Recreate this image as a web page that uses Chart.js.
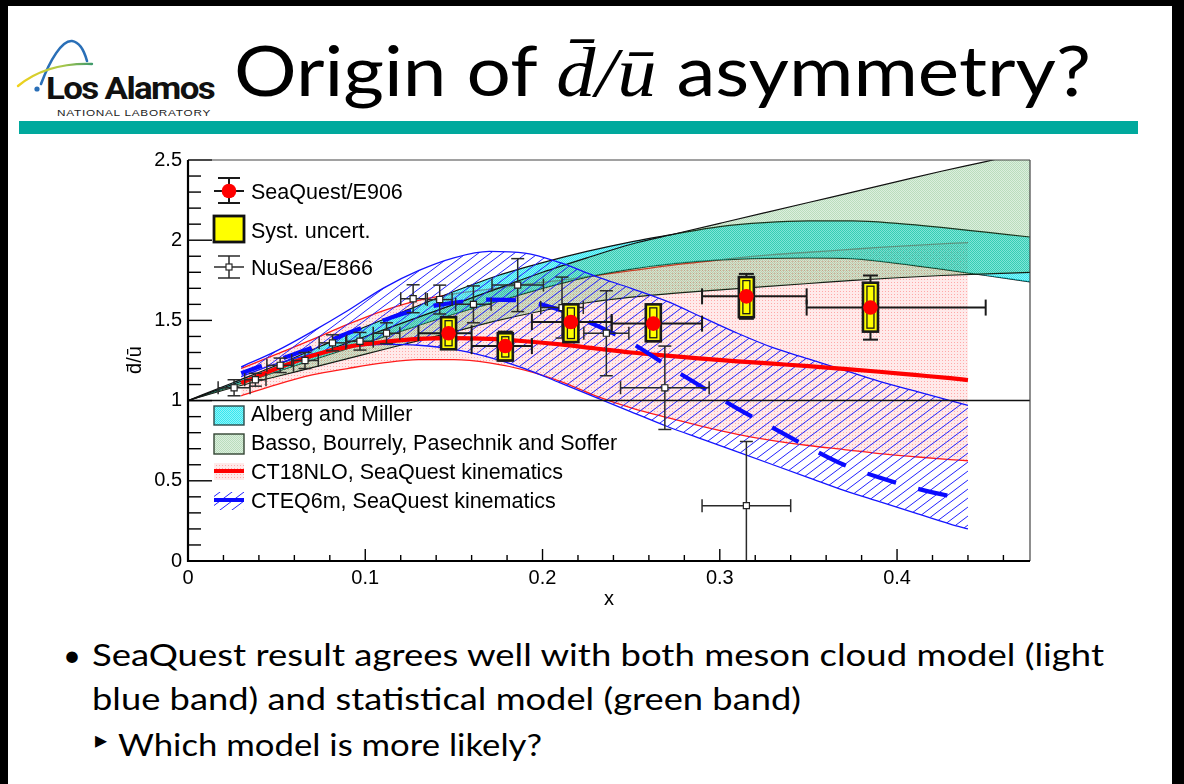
<!DOCTYPE html>
<html>
<head>
<meta charset="utf-8">
<title>Origin of d̄/ū asymmetry?</title>
<script src="https://cdn.jsdelivr.net/npm/chart.js@4.4.1/dist/chart.umd.min.js"></script>
<style>
  html, body { margin:0; padding:0; width:1184px; height:784px; overflow:hidden; background:#000; }
  #page { position:absolute; left:8px; top:6px; width:1164px; height:778px; background:#fff; }
  #teal { position:absolute; left:19px; top:121px; width:1119px; height:13px; background:#00a99d; }
  .t { position:absolute; left:0; top:0; white-space:nowrap; transform-origin:0 0; color:#000; line-height:1.2; }
  #title { font-family:Lato, "Open Sans", sans-serif; font-size:70px; }
  #title .m { font-family:"Liberation Serif", serif; font-style:italic; }
  .bul { font-family:Lato, "Open Sans", sans-serif; font-size:31px; }
  #logoName { font-family:Roboto, "Liberation Sans", sans-serif; font-weight:700; font-size:32px; color:#111; letter-spacing:-1.5px; }
  #logoSub { font-family:"Liberation Sans", sans-serif; font-size:9.5px; color:#222; letter-spacing:0.6px; }
  #logo { position:absolute; left:0; top:0; }
  #plot { position:absolute; left:0; top:0; }
</style>
</head>
<body>
<div id="page"></div>
<div id="teal"></div>
<svg id="logo" width="120" height="120" viewBox="0 0 120 120">
  <defs>
    <linearGradient id="sw" x1="0" y1="0" x2="1" y2="0">
      <stop offset="0" stop-color="#f2d21b"/>
      <stop offset="0.6" stop-color="#a9c84a"/>
      <stop offset="1" stop-color="#3f9a6b"/>
    </linearGradient>
  </defs>
  <path d="M41 84 C 50 60, 62 40, 72 41 C 79 42, 84 50, 87 61" fill="none" stroke="#2a6fb7" stroke-width="2.6" stroke-linecap="round"/>
  <path d="M18 86 C 35 72, 60 63, 92 64" fill="none" stroke="url(#sw)" stroke-width="2.4" stroke-linecap="round"/>
  <circle cx="37" cy="89" r="2.6" fill="#2a6fb7"/>
</svg>
<div class="t" id="logoName">Los Alamos</div>
<div class="t" id="logoSub">NATIONAL LABORATORY</div>
<div class="t" id="title">Origin of <span class="m">d&#772;/&#363;</span> asymmetry?</div>
<div class="t bul" id="dot">&#8226;</div>
<div class="t bul" id="b1">SeaQuest result agrees well with both meson cloud model (light</div>
<div class="t bul" id="b2">blue band) and statistical model (green band)</div>
<div class="t bul" id="tri" style="font-size:24px">&#9656;</div>
<div class="t bul" id="b3">Which model is more likely?</div>
<canvas id="plot" width="1184" height="784" style="width:1184px;height:784px"></canvas>
<script>
// ---------- data ----------
const xTickValues = [0, 0.1, 0.2, 0.3, 0.4];
const xTickLabels = ['0', '0.1', '0.2', '0.3', '0.4'];
const yTickValues = [0, 0.5, 1, 1.5, 2, 2.5];
const yTickLabels = ['0', '0.5', '1', '1.5', '2', '2.5'];

// SeaQuest/E906 ratio with statistical and systematic uncertainties
const sqX     = [0.147, 0.179, 0.216, 0.2625, 0.315, 0.385];
const sqY     = [1.42, 1.34, 1.49, 1.48, 1.65, 1.58];
const sqXLow  = [0.130, 0.160, 0.194, 0.239, 0.290, 0.349];
const sqXHigh = [0.160, 0.194, 0.239, 0.290, 0.349, 0.450];
const sqStat  = [0.09, 0.09, 0.11, 0.11, 0.14, 0.20];
const sqSystLow  = [1.32, 1.25, 1.365, 1.37, 1.52, 1.43];
const sqSystHigh = [1.52, 1.42, 1.60, 1.60, 1.77, 1.735];

// NuSea/E866 ratio
const nsX    = [0.026, 0.038, 0.052, 0.066, 0.0815, 0.097, 0.112, 0.127, 0.142, 0.161, 0.186, 0.211, 0.236, 0.269, 0.315];
const nsY    = [1.08, 1.13, 1.22, 1.25, 1.36, 1.37, 1.42, 1.635, 1.63, 1.60, 1.72, 1.58, 1.42, 1.08, 0.345];
const nsYErr = [0.05, 0.04, 0.045, 0.05, 0.05, 0.055, 0.065, 0.087, 0.09, 0.115, 0.165, 0.19, 0.265, 0.26, 0.40];
const nsXErr = [0.009, 0.006, 0.0075, 0.0075, 0.0075, 0.0075, 0.0075, 0.007, 0.007, 0.01, 0.0145, 0.012, 0.0127, 0.025, 0.025];

// model bands on a common x grid
const bandX      = [0, 0.025, 0.05, 0.075, 0.1, 0.125, 0.15, 0.175, 0.2, 0.225, 0.25, 0.275, 0.3, 0.325, 0.35, 0.375, 0.4, 0.425, 0.45, 0.475];
const amUpper    = [1.0, 1.11, 1.22, 1.34, 1.46, 1.57, 1.68, 1.78, 1.86, 1.93, 1.99, 2.04, 2.085, 2.11, 2.12, 2.12, 2.105, 2.08, 2.05, 2.02];
const amLower    = [1.0, 1.09, 1.18, 1.27, 1.36, 1.45, 1.54, 1.62, 1.70, 1.77, 1.82, 1.855, 1.877, 1.887, 1.89, 1.885, 1.856, 1.82, 1.78, 1.74];
const bbpsUpper  = [1.0, 1.10, 1.20, 1.30, 1.40, 1.50, 1.60, 1.70, 1.80, 1.89, 1.975, 2.04, 2.105, 2.17, 2.235, 2.30, 2.365, 2.43, 2.49, 2.555];
const bbpsLower  = [1.0, 1.08, 1.15, 1.22, 1.29, 1.36, 1.43, 1.50, 1.56, 1.61, 1.645, 1.67, 1.69, 1.71, 1.73, 1.75, 1.766, 1.78, 1.79, 1.80];

// PDF predictions at SeaQuest kinematics
const pdfX      = [0.03, 0.05, 0.07, 0.09, 0.11, 0.13, 0.15, 0.17, 0.19, 0.21, 0.23, 0.25, 0.27, 0.29, 0.31, 0.33, 0.35, 0.37, 0.39, 0.41, 0.43, 0.44];
const ct18Mid   = [1.11, 1.20, 1.28, 1.335, 1.365, 1.385, 1.39, 1.385, 1.37, 1.35, 1.325, 1.30, 1.28, 1.262, 1.245, 1.23, 1.215, 1.198, 1.18, 1.16, 1.14, 1.128];
const ct18Up    = [1.20, 1.29, 1.38, 1.475, 1.56, 1.625, 1.665, 1.695, 1.725, 1.75, 1.78, 1.81, 1.84, 1.865, 1.89, 1.91, 1.925, 1.94, 1.955, 1.968, 1.98, 1.985];
const ct18Low   = [1.03, 1.10, 1.16, 1.20, 1.235, 1.255, 1.255, 1.235, 1.19, 1.12, 1.03, 0.955, 0.895, 0.84, 0.79, 0.75, 0.72, 0.695, 0.67, 0.65, 0.632, 0.625];
const cteqMid   = [1.17, 1.25, 1.33, 1.42, 1.50, 1.57, 1.61, 1.63, 1.62, 1.565, 1.47, 1.36, 1.22, 1.085, 0.95, 0.83, 0.71, 0.60, 0.52, 0.455, 0.405, 0.39];
const cteqUp    = [1.21, 1.31, 1.43, 1.56, 1.70, 1.81, 1.89, 1.93, 1.92, 1.86, 1.775, 1.70, 1.62, 1.52, 1.42, 1.33, 1.26, 1.19, 1.12, 1.06, 1.00, 0.97];
const cteqLow   = [1.15, 1.23, 1.29, 1.33, 1.35, 1.345, 1.32, 1.27, 1.20, 1.11, 1.02, 0.93, 0.84, 0.76, 0.68, 0.60, 0.52, 0.44, 0.37, 0.30, 0.23, 0.20];

// ---------- slide text placement ----------
function place(id, x, base, w) {
  const el = document.getElementById(id);
  const mark = document.createElement('span');
  mark.style.cssText = 'display:inline-block;width:0;height:0;vertical-align:baseline';
  el.appendChild(mark);
  el.style.left = x + 'px';
  el.style.top = '0px';
  const r = el.getBoundingClientRect();
  const b = mark.getBoundingClientRect().top - r.top;
  mark.remove();
  if (w) el.style.transform = 'scaleX(' + (w / r.width) + ')';
  el.style.top = (base - b) + 'px';
}

// ---------- fill patterns ----------
const cv = document.getElementById('plot');
const ctx = cv.getContext('2d');
function tile(w, h, cells) {
  const c = document.createElement('canvas');
  c.width = w; c.height = h;
  const g = c.getContext('2d');
  for (let j = 0; j < h; j++) for (let i = 0; i < w; i++) {
    g.fillStyle = cells(i, j);
    g.fillRect(i, j, 1, 1);
  }
  return ctx.createPattern(c, 'repeat');
}
// fine dotted fills: a light tint with slightly stronger dots
const pinkDots  = tile(3, 3, (i, j) => (i === 0 && j === 0) ? 'rgba(255,50,50,0.42)' : 'rgba(255,60,60,0.11)');
const cyanDots  = tile(2, 2, (i, j) => ((i + j) % 2 === 0) ? 'rgba(0,226,236,0.8)' : 'rgba(0,226,236,0.44)');
const greenDots = tile(2, 2, (i, j) => ((i + j) % 2 === 0) ? 'rgba(60,160,70,0.36)' : 'rgba(60,160,70,0.18)');
const blueHatch = (() => {
  const c = document.createElement('canvas');
  c.width = 12; c.height = 9;
  const g = c.getContext('2d');
  g.strokeStyle = '#2020ff'; g.lineWidth = 1;
  for (const dx of [-12, 0, 12]) { g.beginPath(); g.moveTo(dx - 12, 18); g.lineTo(dx + 24, -9); g.stroke(); }
  return ctx.createPattern(c, 'repeat');
})();

const pts = (xs, ys) => xs.map((v, i) => ({ x: v, y: ys[i] }));

const IDX_NUSEA = 10, IDX_SQ = 11;

function line(xs, ys, color, width, extra) {
  return Object.assign({
    data: pts(xs, ys), showLine: true, borderColor: color, borderWidth: width,
    pointRadius: 0, fill: false, cubicInterpolationMode: 'monotone'
  }, extra || {});
}

// higher "order" is painted first
const datasets = [
  line(pdfX, ct18Low, '#ff1a1a', 1.3, { order: 20 }),
  line(pdfX, ct18Up, '#ff1a1a', 1.3, { order: 19, fill: '-1', backgroundColor: pinkDots }),
  line(bandX, bbpsLower, '#111', 1.2, { order: 16 }),
  line(bandX, bbpsUpper, '#111', 1.2, { order: 15, fill: '-1', backgroundColor: greenDots }),
  line(bandX, amLower, '#111', 1.2, { order: 18 }),
  line(bandX, amUpper, '#111', 1.2, { order: 17, fill: '-1', backgroundColor: cyanDots }),
  line(pdfX, cteqLow, '#1414ff', 1.3, { order: 14 }),
  line(pdfX, cteqUp, '#1414ff', 1.3, { order: 13, fill: '-1', backgroundColor: blueHatch }),
  line(pdfX, ct18Mid, '#ff0000', 4.2, { order: 12 }),
  line(pdfX, cteqMid, '#0a0aff', 4.2, { order: 11, borderDash: [30, 23], borderDashOffset: 8, borderCapStyle: 'butt' }),
  { data: pts(nsX, nsY), showLine: false, order: 2, pointStyle: 'rect', pointRadius: 4.3,
    pointBackgroundColor: '#fff', pointBorderColor: '#222', pointBorderWidth: 1.2 },
  { data: pts(sqX, sqY), showLine: false, order: 1, pointStyle: 'circle', pointRadius: 7.3,
    pointBackgroundColor: '#ff0000', pointBorderColor: '#ff0000', pointBorderWidth: 0 }
];

// ---------- drawing helpers ----------
function seg(c, x1, y1, x2, y2) { c.beginPath(); c.moveTo(x1, y1); c.lineTo(x2, y2); c.stroke(); }

function drawNuSeaBars(chart) {
  const c = chart.ctx, xs = chart.scales.x, ys = chart.scales.y, a = chart.chartArea;
  c.save();
  c.beginPath(); c.rect(a.left, a.top, a.right - a.left, a.bottom - a.top); c.clip();
  c.strokeStyle = '#2a2a2a'; c.lineWidth = 1.5;
  nsX.forEach((vx, i) => {
    const px = xs.getPixelForValue(vx), py = ys.getPixelForValue(nsY[i]);
    const xl = xs.getPixelForValue(vx - nsXErr[i]), xr = xs.getPixelForValue(vx + nsXErr[i]);
    const yt = ys.getPixelForValue(nsY[i] + nsYErr[i]), yb = ys.getPixelForValue(nsY[i] - nsYErr[i]);
    seg(c, xl, py, xr, py); seg(c, px, yt, px, yb);
    seg(c, xl, py - 6.5, xl, py + 6.5); seg(c, xr, py - 6.5, xr, py + 6.5);
    seg(c, px - 6.5, yt, px + 6.5, yt); seg(c, px - 6.5, yb, px + 6.5, yb);
  });
  c.restore();
}

function drawSeaQuestBars(chart) {
  const c = chart.ctx, xs = chart.scales.x, ys = chart.scales.y;
  c.save();
  c.strokeStyle = '#1a1a1a'; c.lineWidth = 2;
  sqX.forEach((vx, i) => {
    const px = xs.getPixelForValue(vx), py = ys.getPixelForValue(sqY[i]);
    const xl = xs.getPixelForValue(sqXLow[i]), xr = xs.getPixelForValue(sqXHigh[i]);
    const yt = ys.getPixelForValue(sqY[i] + sqStat[i]), yb = ys.getPixelForValue(sqY[i] - sqStat[i]);
    seg(c, xl, py, xr, py);
    seg(c, xl, py - 8, xl, py + 8); seg(c, xr, py - 8, xr, py + 8);
    seg(c, px, yt, px, yb);
    seg(c, px - 7.5, yt, px + 7.5, yt); seg(c, px - 7.5, yb, px + 7.5, yb);
    // systematic box
    const bt = ys.getPixelForValue(sqSystHigh[i]), bb = ys.getPixelForValue(sqSystLow[i]);
    c.fillStyle = '#ffff00';
    c.fillRect(px - 7.5, bt, 15, bb - bt);
    c.lineWidth = 2.6; c.strokeRect(px - 7.5, bt, 15, bb - bt);
    c.lineWidth = 1.3; c.strokeRect(px - 3.5, bt + 3.5, 7, bb - bt - 7);
    c.lineWidth = 2;
  });
  c.restore();
}

function drawFrameAndTicks(chart) {
  const c = chart.ctx, a = chart.chartArea, xs = chart.scales.x, ys = chart.scales.y;
  c.save();
  c.strokeStyle = '#000';
  c.lineWidth = 1.4;
  for (let k = 0; k <= 25; k++) {
    const py = ys.getPixelForValue(k / 10);
    const len = (k % 5 === 0) ? 24 : 13;
    seg(c, a.left, py, a.left + len, py);
  }
  for (let k = 0; k <= 23; k++) {
    const px = xs.getPixelForValue(k / 50);
    const len = (k % 5 === 0) ? 12 : 6;
    seg(c, px, a.bottom, px, a.bottom - len);
  }
  c.strokeStyle = '#444'; c.lineWidth = 1.2;
  seg(c, a.left, a.top, a.right, a.top);
  seg(c, a.right, a.top, a.right, a.bottom);
  c.strokeStyle = '#000'; c.lineWidth = 2.2;
  seg(c, a.left, a.top, a.left, a.bottom + 1);
  seg(c, a.left - 1, a.bottom, a.right, a.bottom);
  // axis titles
  c.fillStyle = '#000';
  c.font = '20px "Liberation Sans", Arial, sans-serif';
  c.textAlign = 'center'; c.textBaseline = 'alphabetic';
  c.fillText('x', 609, 605);
  c.translate(141, 360); c.rotate(-Math.PI / 2);
  c.fillText('d\u0304/\u016B', 0, 0);
  c.restore();
}

function drawLegends(chart) {
  const c = chart.ctx;
  c.save();
  c.fillStyle = '#000';
  c.font = '21.5px "Liberation Sans", Arial, sans-serif';
  c.textAlign = 'left'; c.textBaseline = 'alphabetic';
  // SeaQuest entry
  c.strokeStyle = '#1a1a1a'; c.lineWidth = 2;
  seg(c, 214, 191, 244, 191); seg(c, 229, 178, 229, 203);
  seg(c, 218, 178, 240, 178); seg(c, 218, 203, 240, 203);
  c.fillStyle = '#ff0000'; c.beginPath(); c.arc(229, 191, 7.3, 0, Math.PI * 2); c.fill();
  c.fillStyle = '#000'; c.fillText('SeaQuest/E906', 251, 199);
  // systematic box entry
  c.fillStyle = '#ffff00'; c.fillRect(214, 216, 30, 26);
  c.lineWidth = 2.8; c.strokeStyle = '#111'; c.strokeRect(214, 216, 30, 26);
  c.fillStyle = '#000'; c.fillText('Syst. uncert.', 251, 237.5);
  // NuSea entry
  c.strokeStyle = '#2a2a2a'; c.lineWidth = 1.5;
  seg(c, 214, 267, 244, 267); seg(c, 229, 256, 229, 278);
  seg(c, 218, 256, 240, 256); seg(c, 218, 278, 240, 278);
  c.fillStyle = '#fff'; c.fillRect(226, 264, 6, 6); c.lineWidth = 1.2; c.strokeRect(226, 264, 6, 6);
  c.fillStyle = '#000'; c.fillText('NuSea/E866', 251, 275);

  // model entries
  c.fillStyle = cyanDots; c.fillRect(214, 406, 30, 19);
  c.strokeStyle = '#2b4a4a'; c.lineWidth = 1.4; c.strokeRect(214, 406, 30, 19);
  c.fillStyle = greenDots; c.fillRect(214, 434, 30, 20);
  c.strokeStyle = '#334433'; c.strokeRect(214, 434, 30, 20);
  c.fillStyle = pinkDots; c.fillRect(214, 463, 30, 17);
  c.strokeStyle = '#ff0000'; c.lineWidth = 4; seg(c, 214, 471, 244, 471);
  c.fillStyle = blueHatch; c.fillRect(214, 492, 30, 18);
  c.strokeStyle = '#0a0aff'; c.lineWidth = 4; seg(c, 214, 500, 244, 500);
  c.fillStyle = '#000';
  c.fillText('Alberg and Miller', 251, 421);
  c.fillText('Basso, Bourrely, Pasechnik and Soffer', 251, 450);
  c.fillText('CT18NLO, SeaQuest kinematics', 251, 478.5);
  c.fillText('CTEQ6m, SeaQuest kinematics', 251, 507.5);
  c.restore();
}

const decor = {
  id: 'decor',
  beforeDatasetDraw(chart, args) {
    if (args.index === IDX_NUSEA) {
      const c = chart.ctx, a = chart.chartArea, py = chart.scales.y.getPixelForValue(1);
      c.save(); c.strokeStyle = '#111'; c.lineWidth = 1.5; seg(c, a.left, py, a.right, py); c.restore();
      drawNuSeaBars(chart);
    }
    if (args.index === IDX_SQ) drawSeaQuestBars(chart);
  },
  afterDraw(chart) {
    drawFrameAndTicks(chart);
    drawLegends(chart);
  }
};

function build() {
  place('logoName', 46, 99, 168);
  place('logoSub', 57, 115.5, 154);
  place('title', 234, 96, 857);
  place('dot', 63, 666);
  place('b1', 92, 666, 1012);
  place('b2', 92, 710, 709);
  place('tri', 95, 748);
  place('b3', 118, 756, 424);

  new Chart(ctx, {
    type: 'scatter',
    data: { datasets },
    options: {
      responsive: false, animation: false, devicePixelRatio: 1,
      layout: { padding: { left: 128, right: 154, top: 160, bottom: 173 } },
      plugins: { legend: { display: false }, tooltip: { enabled: false }, filler: { propagate: false } },
      scales: {
        x: {
          type: 'linear', min: 0, max: 0.475,
          grid: { display: false, drawTicks: false }, border: { display: false },
          afterBuildTicks: s => { s.ticks = xTickValues.map(v => ({ value: v })); },
          afterFit: s => { s.height = 50; },
          ticks: { autoSkip: false, maxRotation: 0, padding: 5, color: '#000',
                   font: { family: '"Liberation Sans", Arial, sans-serif', size: 20 },
                   callback: (v, i) => xTickLabels[i] }
        },
        y: {
          type: 'linear', min: 0, max: 2.5,
          grid: { display: false, drawTicks: false }, border: { display: false },
          afterBuildTicks: s => { s.ticks = yTickValues.map(v => ({ value: v })); },
          afterFit: s => { s.width = 60; },
          ticks: { autoSkip: false, padding: 6, color: '#000',
                   font: { family: '"Liberation Sans", Arial, sans-serif', size: 20 },
                   callback: (v, i) => yTickLabels[i] }
        }
      }
    },
    plugins: [decor]
  });
}

if (document.fonts && document.fonts.ready) document.fonts.ready.then(build); else build();
</script>
</body>
</html>
